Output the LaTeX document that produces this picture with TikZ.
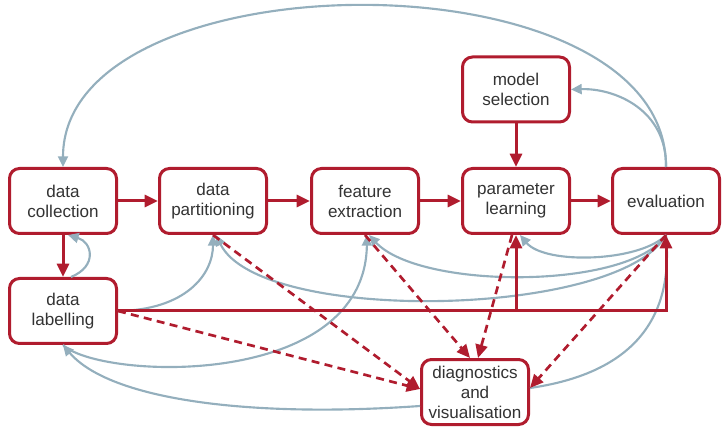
\documentclass[tikz,border=0pt]{standalone}
\usepackage{fontspec}
\setmainfont{Liberation Sans}
\usetikzlibrary{arrows.meta,calc}
\definecolor{cred}{RGB}{176,28,46}
\definecolor{cgrey}{RGB}{148,175,189}
\definecolor{ctext}{RGB}{51,51,51}
\begin{document}
\begin{tikzpicture}[x=0.75pt,y=-0.75pt,
  box/.style={draw=cred, line width=2.25pt, rounded corners=7.5pt, fill=white,
    minimum width=80.25pt, minimum height=48.75pt, align=center, text=ctext,
    font=\fontsize{12.8}{15}\selectfont, inner sep=0pt},
  redarrow/.style={draw=cred, line width=2.25pt, -{Triangle[length=10pt,width=9pt]}},
  reddash/.style={draw=cred, line width=2pt, dash pattern=on 6pt off 4pt, -{Triangle[length=10pt,width=9pt]}},
  greyarrow/.style={draw=cgrey, line width=1.6pt, -{Triangle[length=8pt,width=7.5pt]}},
  greyline/.style={draw=cgrey, line width=1.6pt},
]
\useasboundingbox (0,0) rectangle (724,427);
\node[box] (coll) at (63,201) {data\\collection};
\node[box] (part) at (213,201) {data\\partitioning};
\node[box] (feat) at (365,201) {feature\\extraction};
\node[box] (param) at (516,201) {parameter\\learning};
\node[box] (eval) at (666,201) {evaluation};
\node[box] (model) at (516,89.5) {model\\selection};
\node[box] (lab) at (63,311) {data\\labelling};
\node[box] (diag) at (475,392) {diagnostics\\and\\visualisation};

\coordinate (dN1) at ($(diag.north)+(-5,0)$);
\coordinate (dN2) at ($(diag.north)+(3,0)$);
\coordinate (dW) at ($(diag.west)+(0,-3)$);
\coordinate (dE) at ($(diag.east)+(0,-4)$);
\coordinate (dWl) at ($(diag.west)+(0,14)$);

% grey feedback curves
\draw[greyarrow] (eval.north) .. controls (667,-50) and (63,-45) .. (coll.north);
\draw[greyarrow] (eval.north) .. controls (667,110) and (615,88) .. (model.east);
\draw[greyarrow] ($(lab.north)+(8,0)$) .. controls (98,266) and (92,242) .. ($(coll.south)+(5,0)$);
\draw[greyarrow] (lab.east) .. controls (185,310) and (213,275) .. (part.south);
\draw[greyarrow] (lab.south) .. controls (100,380) and (365,390) .. ($(feat.south)+(2,0)$);
\draw[greyarrow] (dWl) .. controls (250,418) and (110,400) .. (lab.south);
\draw[greyarrow] (eval.south) .. controls (640,262) and (545,265) .. ($(param.south)+(4,0)$);
\draw[greyarrow] (eval.south) .. controls (630,290) and (420,290) .. ($(feat.south)+(4,0)$);
\draw[greyarrow] (eval.south) .. controls (620,318) and (260,325) .. ($(part.south)+(3,0)$);
\draw[greyline] (eval.south) .. controls (675,330) and (620,375) .. (dE);

% red solid
\draw[redarrow] (coll.east) -- (part.west);
\draw[redarrow] (part.east) -- (feat.west);
\draw[redarrow] (feat.east) -- (param.west);
\draw[redarrow] (param.east) -- (eval.west);
\draw[redarrow] (model.south) -- (param.north);
\draw[redarrow] (coll.south) -- (lab.north);
\draw[redarrow] (lab.east) -| (eval.south);
\draw[redarrow] (lab.east -| param.south) -- (param.south);

% red dashed
\draw[reddash] (part.south) -- (dW);
\draw[reddash] (lab.east) -- (dW);
\draw[reddash] (feat.south) -- (dN1);
\draw[reddash] ($(param.south)+(-4,0)$) -- (dN2);
\draw[reddash] (eval.south) -- (dE);
\end{tikzpicture}
\end{document}
